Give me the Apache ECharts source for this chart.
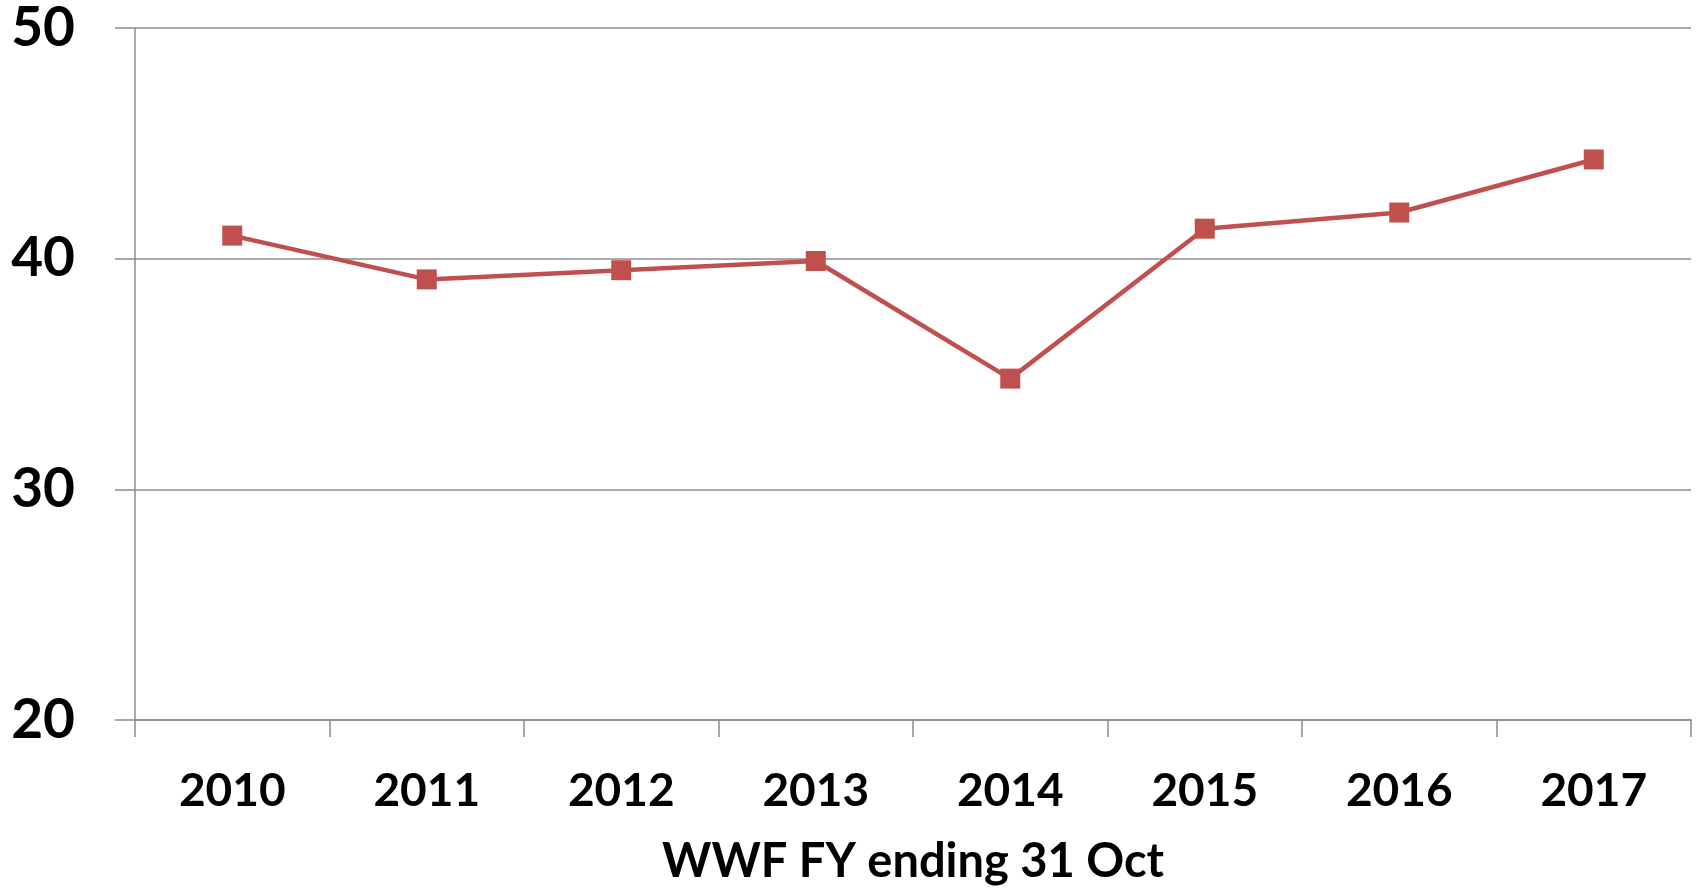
<!DOCTYPE html>
<html>
<head>
<meta charset="utf-8">
<script src="https://cdn.jsdelivr.net/npm/echarts@6/dist/echarts.min.js"></script>
<style>
html,body{margin:0;padding:0;background:#fff;}
#c{width:1702px;height:890px;}
</style>
</head>
<body>
<div id="c"></div>
<script>
const categories = ['2010','2011','2012','2013','2014','2015','2016','2017'];
const values = [41.0, 39.1, 39.5, 39.9, 34.8, 41.3, 42.0, 44.3];
const xAxisTitle = 'WWF FY ending 31 Oct';
const yMin = 20, yMax = 50, yStep = 10;

const gray = '#8c8c8c';
const font = 'Lato, "Open Sans", "Liberation Sans", sans-serif';
const chart = echarts.init(document.getElementById('c'));
chart.setOption({
  animation: false,
  backgroundColor: '#fff',
  grid: {left: 135, right: 11, top: 28, bottom: 169, containLabel: false},
  xAxis: {
    type: 'category',
    data: categories,
    boundaryGap: true,
    name: xAxisTitle,
    nameLocation: 'middle',
    nameGap: 118,
    nameTextStyle: {fontFamily: font, fontWeight: 'bold', fontSize: 47, color: '#000'},
    axisLine: {show: true, lineStyle: {color: gray, width: 1.5}},
    axisTick: {show: true, length: 17, alignWithLabel: false, lineStyle: {color: gray, width: 1.5}},
    axisLabel: {fontFamily: font, fontWeight: 'bold', fontSize: 46, color: '#000', margin: 48},
    splitLine: {show: false}
  },
  yAxis: {
    type: 'value',
    min: yMin, max: yMax, interval: yStep,
    axisLine: {show: true, lineStyle: {color: gray, width: 1.5}},
    axisTick: {show: true, length: 20, lineStyle: {color: gray, width: 1.5}},
    axisLabel: {fontFamily: font, fontWeight: 'bold', fontSize: 55, color: '#000', margin: 60},
    splitLine: {show: true, lineStyle: {color: gray, width: 1.5}}
  },
  series: [{
    type: 'line',
    data: values,
    symbol: 'rect',
    symbolSize: 20,
    lineStyle: {color: '#C0504D', width: 4.5},
    itemStyle: {color: '#C0504D'}
  }]
});
</script>
</body>
</html>
